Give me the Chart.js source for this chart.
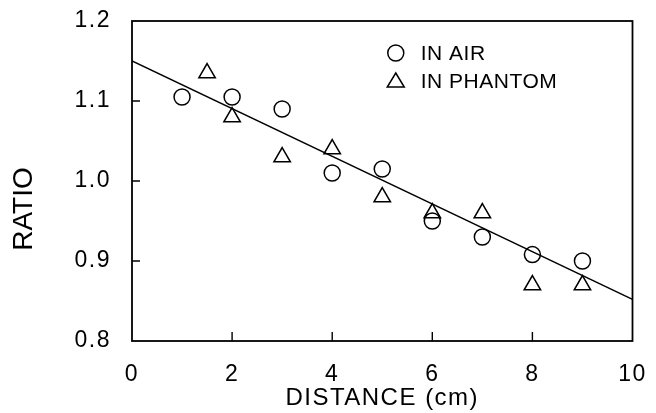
<!DOCTYPE html>
<html>
<head>
<meta charset="utf-8">
<script src="https://cdn.jsdelivr.net/npm/chart.js@4.4.0/dist/chart.umd.min.js"></script>
<style>
  html, body { margin: 0; padding: 0; background: #fff; }
  #wrap { width: 656px; height: 413px; }
</style>
</head>
<body>
<div id="wrap"><canvas id="c" width="656" height="413"></canvas></div>
<script>
// данные с картинки
var airX = [1, 2, 3, 4, 5, 6, 7, 8, 9];
var airY = [1.105, 1.105, 1.09, 1.01, 1.015, 0.95, 0.93, 0.908, 0.90];
var phantomX = [1.5, 2, 3, 4, 5, 6, 7, 8, 9];
var phantomY = [1.135, 1.08, 1.03, 1.04, 0.98, 0.96, 0.96, 0.87, 0.87];
var fitX = [0, 10];
var fitY = [1.15, 0.852];
var xTicks = [0, 2, 4, 6, 8, 10];
var yTicks = [0.8, 0.9, 1.0, 1.1, 1.2];
var legendLabels = ['IN AIR', 'IN PHANTOM'];
var yTitle = 'RATIO';
var xTitle = 'DISTANCE (cm)';

var FONT = "'Liberation Sans', Arial, sans-serif";

function pts(xs, ys) {
	return xs.map(function (x, k) { return {x: x, y: ys[k]}; });
}

// разрядка букв как в оригинале
var spacingPlugin = {
	id: 'spacing',
	beforeUpdate: function (chart) { chart.ctx.letterSpacing = '1.5px'; },
	beforeDraw: function (chart) { chart.ctx.letterSpacing = '1.5px'; }
};

// рамка, внутренние засечки, подпись оси Y и легенда
var framePlugin = {
	id: 'frame',
	afterDraw: function (chart) {
		var ctx = chart.ctx, a = chart.chartArea;
		var sx = chart.scales.x, sy = chart.scales.y;
		ctx.save();
		ctx.strokeStyle = '#000';
		ctx.lineWidth = 1.8;
		ctx.strokeRect(a.left, a.top, a.right - a.left, a.bottom - a.top);
		ctx.lineWidth = 1.4;
		ctx.beginPath();
		yTicks.forEach(function (v) {
			if (v <= 0.8 || v >= 1.2) return;
			var y = sy.getPixelForValue(v);
			ctx.moveTo(a.left, y); ctx.lineTo(a.left + 8, y);
		});
		xTicks.forEach(function (v) {
			if (v <= 0 || v >= 10) return;
			var x = sx.getPixelForValue(v);
			ctx.moveTo(x, a.bottom); ctx.lineTo(x, a.bottom - 9);
		});
		ctx.stroke();

		ctx.fillStyle = '#000';
		// подпись оси Y (в оригинале сдвинута вниз)
		ctx.save();
		ctx.letterSpacing = '0px';
		ctx.translate(24, sy.getPixelForValue(0.965));
		ctx.rotate(-Math.PI / 2);
		ctx.font = '28px ' + FONT;
		ctx.textAlign = 'center';
		ctx.textBaseline = 'middle';
		ctx.fillText(yTitle, 0, 0);
		ctx.restore();

		// легенда
		var lx = sx.getPixelForValue(5.27);
		var ly1 = sy.getPixelForValue(1.16), ly2 = sy.getPixelForValue(1.125);
		ctx.lineWidth = 1.5;
		ctx.beginPath();
		ctx.arc(lx, ly1, 8, 0, Math.PI * 2);
		ctx.stroke();
		ctx.beginPath();
		ctx.moveTo(lx, ly2 - 8);
		ctx.lineTo(lx + 8.5, ly2 + 6);
		ctx.lineTo(lx - 8.5, ly2 + 6);
		ctx.closePath();
		ctx.stroke();
		ctx.letterSpacing = '0.5px';
		ctx.font = '21px ' + FONT;
		ctx.textBaseline = 'middle';
		ctx.textAlign = 'left';
		ctx.fillText(legendLabels[0], lx + 25, ly1 + 1);
		ctx.fillText(legendLabels[1], lx + 25, ly2 + 1);
		ctx.restore();
	}
};

new Chart(document.getElementById('c').getContext('2d'), {
	type: 'scatter',
	data: {
		datasets: [{
			label: legendLabels[0],
			data: pts(airX, airY),
			pointStyle: 'circle',
			pointRadius: 8,
			pointBorderWidth: 1.5,
			borderColor: '#000',
			backgroundColor: 'rgba(0,0,0,0)'
		}, {
			label: legendLabels[1],
			data: pts(phantomX, phantomY),
			pointStyle: 'triangle',
			pointRadius: 9.5,
			pointBorderWidth: 1.5,
			borderColor: '#000',
			backgroundColor: 'rgba(0,0,0,0)'
		}, {
			type: 'line',
			label: 'fit',
			data: pts(fitX, fitY),
			borderColor: '#000',
			borderWidth: 1.5,
			pointRadius: 0,
			fill: false
		}]
	},
	options: {
		responsive: false,
		animation: false,
		layout: { padding: { top: 21, right: 23.5, left: 0, bottom: 0 } },
		plugins: { legend: { display: false }, tooltip: { enabled: false } },
		scales: {
			x: {
				type: 'linear',
				min: 0, max: 10,
				afterBuildTicks: function (s) { s.ticks = xTicks.map(function (v) { return {value: v}; }); },
				afterFit: function (s) { s.height = 72; s.paddingLeft = 0; s.paddingRight = 0; },
				grid: { display: false, drawTicks: false },
				border: { display: false },
				ticks: { color: '#000', padding: 20, font: { family: FONT, size: 23 }, maxRotation: 0 },
				title: { display: true, text: xTitle, color: '#000', font: { family: FONT, size: 24 }, padding: { top: 0, bottom: 0 } }
			},
			y: {
				type: 'linear',
				min: 0.8, max: 1.2,
				afterBuildTicks: function (s) { s.ticks = yTicks.map(function (v) { return {value: v}; }); },
				afterFit: function (s) { s.width = 132; s.paddingTop = 0; s.paddingBottom = 0; },
				grid: { display: false, drawTicks: false },
				border: { display: false },
				ticks: { color: '#000', padding: 21, font: { family: FONT, size: 23 }, callback: function (v) { return v.toFixed(1); } }
			}
		}
	},
	plugins: [spacingPlugin, framePlugin]
});
</script>
</body>
</html>
